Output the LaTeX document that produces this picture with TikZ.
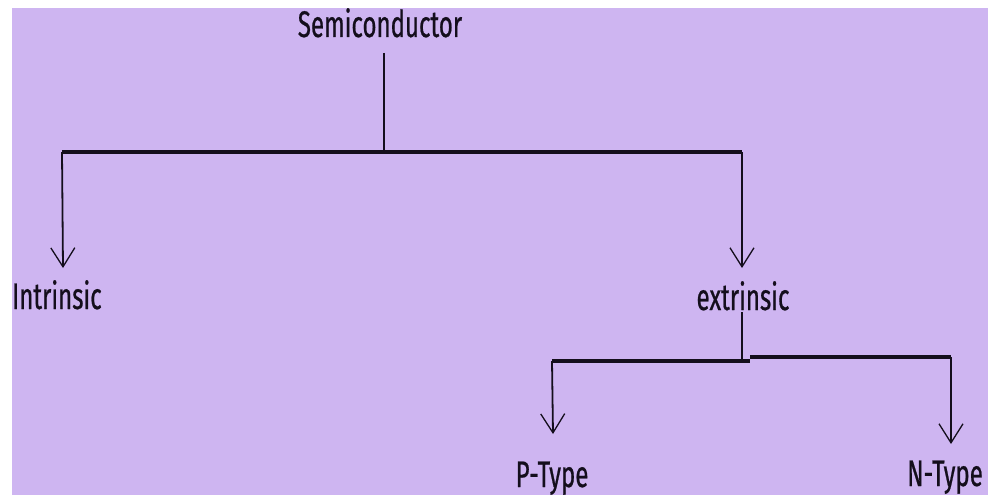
\documentclass[tikz,border=0pt]{standalone}
\usepackage{fontspec}
\setmainfont{Fira Sans}[FakeStretch=0.65,FakeBold=0.6]
\usetikzlibrary{arrows.meta}
\definecolor{lav}{RGB}{206,181,241}
\definecolor{ink}{RGB}{20,14,28}
\begin{document}
\begin{tikzpicture}[x=1pt,y=-1pt,
 lbl/.style={inner sep=0pt, font=\fontsize{37}{37}\selectfont, text=ink},
 trunk/.style={line width=1.8pt, draw=ink},
 bar/.style={line width=3.4pt, draw=ink},
 arr/.style={trunk, -{Straight Barb[length=19pt,width=24pt,line width=1.3pt]}}]
\useasboundingbox (0,0) rectangle (988,495);
\fill[white] (0,0) rectangle (988,495);
\fill[lav] (12,8) rectangle (988,495);
% labels
\node[lbl, anchor=base] (semi) at (380,37) {Semiconductor};
\node[lbl, anchor=base west] (intr) at (12,309) {Intrinsic};
\node[lbl, anchor=base] (extr) at (743,310) {extrinsic};
\node[lbl, anchor=base] (ptype) at (552,487) {P-Type};
\node[lbl, anchor=base west] (ntype) at (907,486) {N-Type};
% junctions
\coordinate (s0) at (384,53);
\coordinate (s1) at (384,154);
\coordinate (bl) at (62,152);
\coordinate (br) at (742,152);
\coordinate (ltip) at (63,268);
\coordinate (rtip) at (742,268);
\coordinate (e0) at (742,312);
\coordinate (e1) at (742,361);
\coordinate (pl) at (552,361);
\coordinate (pm) at (750,361);
\coordinate (nm) at (750,357);
\coordinate (nr) at (951,357);
\coordinate (ptip) at (553,434);
\coordinate (ntip) at (951,444);
% connectors
\draw[trunk] (s0) -- (s1);
\draw[bar] (bl) -- (br);
\draw[arr] (bl) -- (ltip);
\draw[arr] (br) -- (rtip);
\draw[trunk] (e0) -- (e1);
\draw[bar] (pl) -- (pm);
\draw[bar] (nm) -- (nr);
\draw[arr] (pl) -- (ptip);
\draw[arr] (nr) -- (ntip);
\end{tikzpicture}
\end{document}
